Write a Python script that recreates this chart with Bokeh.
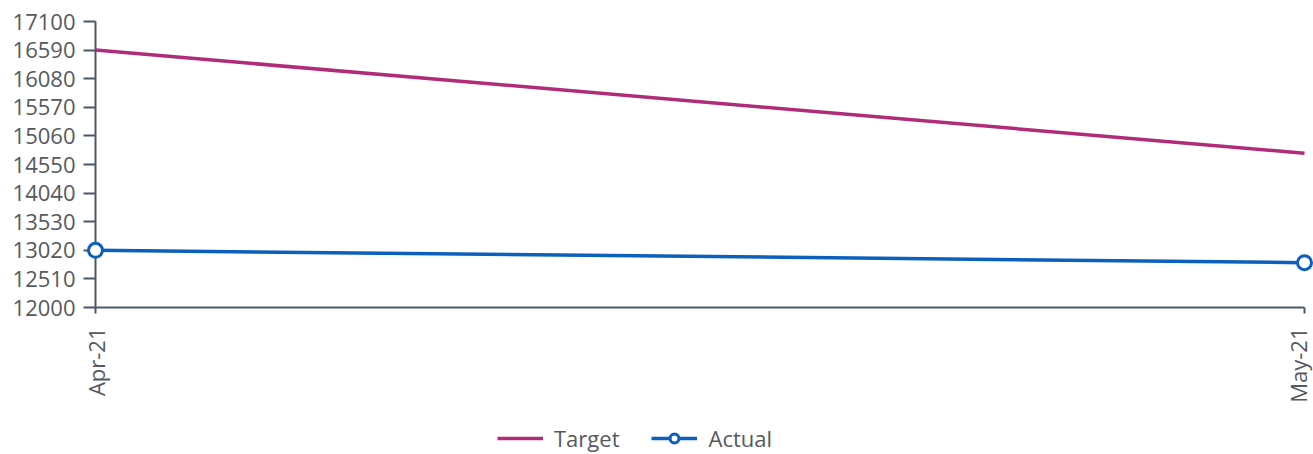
from bokeh.plotting import figure
from bokeh.layouts import column
from bokeh.models import Range1d, FixedTicker, Legend, LegendItem, ColumnDataSource
from bokeh.embed import file_html
from bokeh.resources import INLINE

# Monthly target vs actual
months = ["Apr-21", "May-21"]
target = [16590, 14750]
actual = [13020, 12800]
y_ticks = [12000, 12510, 13020, 13530, 14040, 14550, 15060, 15570, 16080, 16590, 17100]

x_pos = list(range(len(months)))
src = ColumnDataSource(dict(x=x_pos, target=target, actual=actual))

FONT = "Open Sans"
AXIS_COLOR = "#4a5866"
LABEL_COLOR = "#555a60"
TARGET_COLOR = "#b12c78"
ACTUAL_COLOR = "#0b5fbd"

LINE_STYLE = dict(line_width=3.5)
MARKER_STYLE = dict(marker="circle", size=14, line_width=3, fill_color="white")

p = figure(width=1313, height=422, output_backend="svg", toolbar_location=None,
           x_range=Range1d(0, len(months) - 1), y_range=Range1d(y_ticks[0], y_ticks[-1]),
           min_border_left=95, min_border_right=9, min_border_top=21, min_border_bottom=115)
p.outline_line_color = None
p.grid.visible = False

p.line("x", "target", source=src, line_color=TARGET_COLOR, level="overlay", **LINE_STYLE)
p.line("x", "actual", source=src, line_color=ACTUAL_COLOR, level="overlay", **LINE_STYLE)
p.scatter("x", "actual", source=src, line_color=ACTUAL_COLOR, level="overlay", **MARKER_STYLE)

# y axis
ya = p.yaxis[0]
ya.ticker = FixedTicker(ticks=y_ticks)
ya.axis_line_color = AXIS_COLOR
ya.axis_line_width = 2
ya.major_tick_line_color = AXIS_COLOR
ya.major_tick_line_width = 2
ya.major_tick_out = 12
ya.major_tick_in = 0
ya.minor_tick_line_color = None
ya.major_label_text_font = FONT
ya.major_label_text_font_size = "22px"
ya.major_label_text_color = LABEL_COLOR
ya.major_label_standoff = 8

# x axis
xa = p.xaxis[0]
xa.ticker = FixedTicker(ticks=x_pos)
xa.major_label_overrides = {i: m for i, m in enumerate(months)}
xa.major_label_orientation = 1.5707963
xa.axis_line_color = AXIS_COLOR
xa.axis_line_width = 2
xa.major_tick_line_color = AXIS_COLOR
xa.major_tick_line_width = 2
xa.major_tick_out = 6
xa.major_tick_in = 0
xa.minor_tick_line_color = None
xa.major_label_text_font = FONT
xa.major_label_text_font_size = "22px"
xa.major_label_text_color = LABEL_COLOR
xa.major_label_standoff = 14

# legend strip below the chart; key renderers carry a single NaN point so nothing is plotted
lg = figure(width=1313, height=32, output_backend="svg", toolbar_location=None,
            x_range=Range1d(0, 1), y_range=Range1d(0, 1),
            min_border=0, min_border_left=0, min_border_right=0, min_border_top=0, min_border_bottom=0)
lg.axis.visible = False
lg.grid.visible = False
lg.outline_line_color = None
key_src = ColumnDataSource(dict(x=[float("nan")], y=[float("nan")]))
k_t = lg.line("x", "y", source=key_src, line_color=TARGET_COLOR, **LINE_STYLE)
k_a = lg.line("x", "y", source=key_src, line_color=ACTUAL_COLOR, **LINE_STYLE)
k_am = lg.scatter("x", "y", source=key_src, line_color=ACTUAL_COLOR,
                  **dict(MARKER_STYLE, size=11, line_width=3))

legend = Legend(items=[LegendItem(label="Target", renderers=[k_t]),
                       LegendItem(label="Actual", renderers=[k_a, k_am])],
                orientation="horizontal", location=(402, 1),
                label_text_font=FONT, label_text_font_size="22px", label_text_color=LABEL_COLOR,
                glyph_width=46, glyph_height=22, label_standoff=11, spacing=32,
                border_line_color=None, background_fill_alpha=0, padding=0, margin=0)
lg.add_layout(legend, "center")

open("out.html", "w").write(file_html(column(p, lg, spacing=0), INLINE))
